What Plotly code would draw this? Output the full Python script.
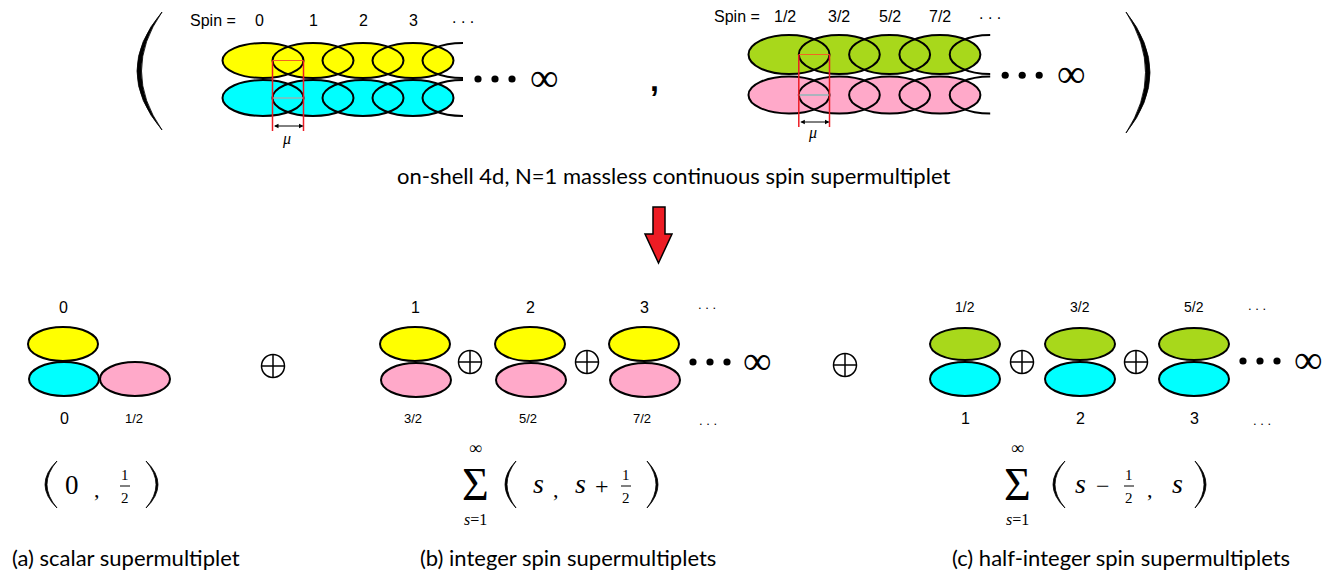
import plotly.graph_objects as go

W, H = 1343, 572

# ---------------- data (labels / text) ----------------
boson_spins = ["0", "1", "2", "3", ". . ."]
fermion_spins = ["1/2", "3/2", "5/2", "7/2", ". . ."]
scalar_top = ["0"]
scalar_bottom = ["0", "1/2"]
integer_top = ["1", "2", "3", ". . ."]
integer_bottom = ["3/2", "5/2", "7/2", ". . ."]
half_top = ["1/2", "3/2", "5/2", ". . ."]
half_bottom = ["1", "2", "3", ". . ."]
captions = ["(a) scalar supermultiplet",
            "(b) integer spin supermultiplets",
            "(c) half-integer spin supermultiplets"]
headline = "on-shell 4d, N=1 massless continuous spin supermultiplet"
spin_prefix = "Spin ="

# ---------------- styles ----------------
YELLOW = "#FFFF00"
CYAN = "#00FFFF"
GREEN = "#A8D81B"
PINK = "#FFA9C9"
RED = "#ED1C24"
SANS = "Liberation Sans"
SERIF = "Liberation Serif"
CAP = "Lato"

shapes = []
ann = []


def ellipse(cx, cy, rx, ry, fill=None, outline=True, lw=2):
    shapes.append(dict(type="circle", xref="x", yref="y",
                       x0=cx - rx, x1=cx + rx, y0=cy - ry, y1=cy + ry,
                       fillcolor=fill if fill else "rgba(0,0,0,0)",
                       line=dict(color="black" if outline else "rgba(0,0,0,0)",
                                 width=lw if outline else 0)))


def left_half_ellipse(cx, cy, rx, ry, lw=2):
    k = 0.5523
    p = (f"M {cx},{cy - ry} C {cx - k * rx},{cy - ry} {cx - rx},{cy - k * ry} {cx - rx},{cy} "
         f"C {cx - rx},{cy + k * ry} {cx - k * rx},{cy + ry} {cx},{cy + ry}")
    shapes.append(dict(type="path", xref="x", yref="y", path=p,
                       line=dict(color="black", width=lw)))


def line(x0, y0, x1, y1, color="black", lw=1.5):
    shapes.append(dict(type="line", xref="x", yref="y", x0=x0, y0=y0, x1=x1, y1=y1,
                       line=dict(color=color, width=lw)))


def paren(xe, xm, y0, y1, t):
    ym = (y0 + y1) / 2
    c1 = 2 * xm - xe
    c2 = 2 * (xm + t) - xe
    p = f"M {xe},{y0} Q {c1},{ym} {xe},{y1} Q {c2},{ym} {xe},{y0} Z"
    shapes.append(dict(type="path", xref="x", yref="y", path=p,
                       fillcolor="black", line=dict(color="black", width=0.8)))


def txt(x, y, s, size, family=SANS, xanchor="center", yanchor="middle", color="black"):
    ann.append(dict(x=x, y=y, xref="x", yref="y", text=s, showarrow=False,
                    xanchor=xanchor, yanchor=yanchor,
                    font=dict(size=size, family=family, color=color)))


def oplus(cx, cy, r=11.5):
    shapes.append(dict(type="circle", xref="x", yref="y", x0=cx - r, x1=cx + r,
                       y0=cy - r, y1=cy + r, line=dict(color="black", width=1.5),
                       fillcolor="rgba(0,0,0,0)"))
    line(cx - r, cy, cx + r, cy)
    line(cx, cy - r, cx, cy + r)


def bigdots(x0, y, gap=17, r=3.6):
    for i in range(3):
        cx = x0 + i * gap
        shapes.append(dict(type="circle", xref="x", yref="y", x0=cx - r, x1=cx + r,
                           y0=y - r, y1=y + r, fillcolor="black",
                           line=dict(color="black", width=0)))


def infinity(cx, cy, size=40):
    txt(cx, cy, "∞", size, SERIF)


def mu_arrow(x0, x1, y):
    ann.append(dict(x=x1, y=y, ax=x0, ay=y, xref="x", yref="y", axref="x", ayref="y",
                    text="", showarrow=True, arrowhead=2, startarrowhead=2,
                    arrowside="end+start", arrowsize=0.9, startarrowsize=0.9,
                    arrowwidth=1, arrowcolor="black"))


def chain(x_first, step, rx, row1, row2, col1, col2, labels, label_y, prefix_x, mu_y, mu_label_y):
    centers = [x_first + i * step for i in range(5)]
    # fills
    for (cy, ry), col in ((row1, col1), (row2, col2)):
        for cx in centers[:4]:
            ellipse(cx, cy, rx, ry, fill=col, outline=False)
    # outlines
    for cy, ry in (row1, row2):
        for cx in centers[:4]:
            ellipse(cx, cy, rx, ry, outline=True)
        left_half_ellipse(centers[4], cy, rx, ry)
    # mu markers
    xa = centers[1] - rx
    xb = centers[0] + rx
    line(xa, row1[0], xb, row1[0], color="#F26522", lw=1)
    line(xa, row2[0], xb, row2[0], color="#8FB8B8", lw=1.5)
    line(xa, row1[0], xa, mu_y + 5, color=RED, lw=1.5)
    line(xb, row1[0], xb, mu_y + 5, color=RED, lw=1.5)
    mu_arrow(xa, xb, mu_y)
    txt((xa + xb) / 2 - 2, mu_label_y, "<i>μ</i>", 16, SERIF)
    # labels
    txt(prefix_x, label_y, spin_prefix, 16, SANS)
    for cx, lab in zip(centers, labels):
        txt(cx - (4 if lab == labels[0] else 0), label_y - (3 if lab.startswith(".") else 0), lab, 16, SANS)
    # dots and infinity
    ymid = (row1[0] + row1[1] + row2[0] - row2[1]) / 2
    bigdots(centers[4] + 15, ymid)
    infinity(centers[4] + 81, ymid - 2)


# ---------------- top: continuous spin supermultiplet ----------------
paren(162, 137, 12, 130, 4.5)
chain(263, 50, 40.5, (60.5, 17.5), (98, 18), YELLOW, CYAN,
      boson_spins, 20, 213, 126, 139)
txt(654, 80, "<b>,</b>", 32, SANS)
chain(789, 50.3, 40.5, (54.5, 19.5), (95, 18.5), GREEN, PINK,
      fermion_spins, 16, 737, 122, 133)
paren(1126, 1150, 12, 133, -4.5)

txt(673, 175, headline, 22, CAP)

# red arrow
shapes.append(dict(type="path", xref="x", yref="y",
                   path="M 653,207 L 665,207 L 665,234 L 672,234 L 658.5,263 L 645,234 L 653,234 Z",
                   fillcolor=RED, line=dict(color="black", width=1.5)))

# ---------------- bottom ----------------
RX, RY = 35, 17
YT, YB = 344, 379
LT, LB = 307, 418

# (a) scalar
ellipse(63, YT, RX, RY, fill=YELLOW)
ellipse(64, YB, RX, RY, fill=CYAN)
ellipse(135, YB, RX, RY, fill=PINK)
txt(63, LT, scalar_top[0], 16, SANS)
txt(64, LB, scalar_bottom[0], 16, SANS)
txt(134, LB, scalar_bottom[1], 13, SANS)
oplus(273, 366)

# (b) integer
xb = [415, 530, 644]
for i, cx in enumerate(xb):
    ellipse(cx, YT, RX, RY, fill=YELLOW)
    ellipse(cx + 1, YB + 1, RX, RY, fill=PINK)
    txt(cx, LT, integer_top[i], 16, SANS)
    txt(cx - 2, LB, integer_bottom[i], 13, SANS)
for cx in (470, 587):
    oplus(cx, 362)
txt(707, LT - 3, integer_top[3], 13, SANS)
txt(708, LB + 2, integer_bottom[3], 13, SANS)
bigdots(693, 362)
infinity(757, 360)
oplus(845, 365)

# (c) half-integer
xc = [965, 1080, 1194]
for i, cx in enumerate(xc):
    ellipse(cx, YT, RX, 16, fill=GREEN)
    ellipse(cx, YB, RX, 17, fill=CYAN)
    txt(cx, LT, half_top[i], 14, SANS)
    txt(cx, LB, half_bottom[i], 16, SANS)
for cx in (1022, 1136):
    oplus(cx, 362)
txt(1257, LT - 2, half_top[3], 13, SANS)
txt(1262, LB + 2, half_bottom[3], 13, SANS)
bigdots(1243, 361)
infinity(1308, 359)

# ---------------- math ----------------
MY = 486


def frac(cx, num="1", den="2"):
    txt(cx, MY - 11.5, num, 15, SERIF)
    line(cx - 5, MY, cx + 5, MY, lw=1)
    txt(cx, MY + 11.5, den, 15, SERIF)


def sigma(cx):
    txt(cx, 447.5, "∞", 18, SERIF)
    txt(cx, 484, "Σ", 46, SERIF)
    txt(cx, 519.5, "<i>s</i>=1", 16, SERIF)


# (a)
paren(57, 45, 461, 508, 2)
txt(72, MY - 1, "0", 27, SERIF)
txt(97, MY + 3, ",", 22, SERIF)
frac(125)
paren(146, 158, 461, 508, -2)

# (b)
sigma(475)
paren(516, 505, 461, 508, 2)
txt(538, MY - 3, "<i>s</i>", 28, SERIF)
txt(556, MY + 3, ",", 22, SERIF)
txt(580, MY - 3, "<i>s</i>", 28, SERIF)
txt(602, MY, "+", 24, SERIF)
frac(626)
paren(647, 658, 461, 508, -2)

# (c)
sigma(1017)
paren(1065, 1053, 461, 508, 2)
txt(1080, MY - 3, "<i>s</i>", 28, SERIF)
txt(1103, MY, "−", 24, SERIF)
frac(1129)
txt(1150, MY + 3, ",", 22, SERIF)
txt(1177, MY - 3, "<i>s</i>", 28, SERIF)
paren(1195, 1206, 461, 508, -2)

# captions
txt(10, 557, captions[0], 22, CAP, xanchor="left")
txt(418, 557, captions[1], 22, CAP, xanchor="left")
txt(950, 557, captions[2], 22, CAP, xanchor="left")

fig = go.Figure()
fig.update_layout(
    width=W, height=H, autosize=False,
    margin=dict(l=0, r=0, t=0, b=0),
    paper_bgcolor="white", plot_bgcolor="white",
    xaxis=dict(range=[0, W], visible=False, fixedrange=True),
    yaxis=dict(range=[H, 0], visible=False, fixedrange=True),
    shapes=shapes, annotations=ann, showlegend=False,
)
fig.write_html("out.html", config={"displayModeBar": False},
               post_script="document.body.style.margin='0';document.body.style.overflow='hidden';")
